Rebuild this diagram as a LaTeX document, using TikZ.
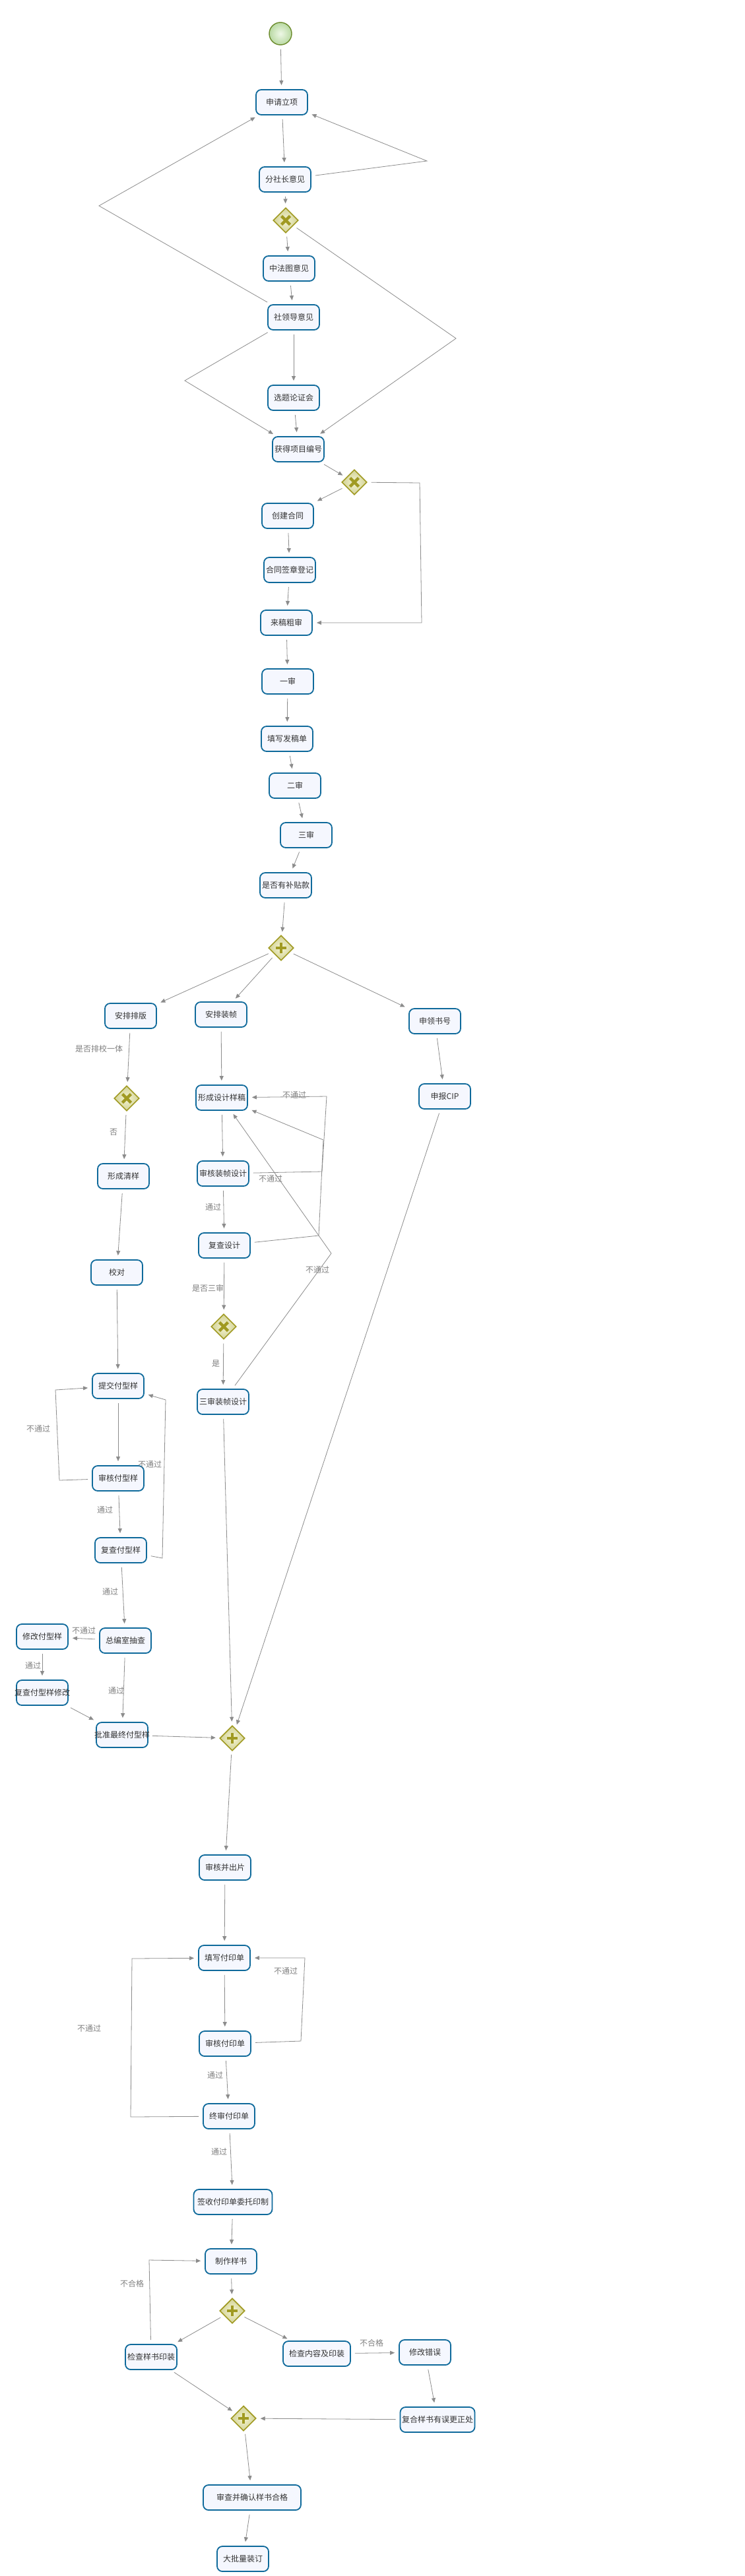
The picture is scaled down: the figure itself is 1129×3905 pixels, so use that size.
\documentclass[tikz,border=0pt]{standalone}
\usepackage{fontspec}
\newfontfamily\cjk{Noto Sans CJK SC}
\usetikzlibrary{arrows.meta,shapes.geometric,calc}
\definecolor{boxline}{HTML}{0F6A9B}
\definecolor{boxfill}{HTML}{F5F7FE}
\definecolor{txt}{HTML}{333333}
\definecolor{lbl}{HTML}{808080}
\definecolor{edgec}{HTML}{8C8C8C}
\definecolor{gwline}{HTML}{A09A22}
\definecolor{gwin}{HTML}{F4F4D2}
\definecolor{gwout}{HTML}{D2D296}
\definecolor{stline}{HTML}{6A8A2A}
\definecolor{stin}{HTML}{EEF8E6}
\definecolor{stout}{HTML}{B9D9A3}
\begin{document}
\begin{tikzpicture}[x=1pt,y=-1pt,
  task/.style={draw=boxline,line width=1.8pt,fill=boxfill,rounded corners=8pt,
    minimum width=78pt,minimum height=38pt,inner sep=0pt,
    font=\cjk\fontsize{12}{14}\selectfont,text=txt},
  flow/.style={draw=edgec,line width=0.8pt,-{Triangle[length=7pt,width=6pt]},
    shorten >=6pt,shorten <=6pt},
  lab/.style={font=\cjk\fontsize{12}{14}\selectfont,text=lbl,inner sep=0pt},
  gw/.style={diamond,aspect=1,minimum width=38pt,minimum height=38pt,inner sep=0pt,
    draw=gwline,line width=1.6pt,inner color=gwin,outer color=gwout},
  gwx/.style={gw,path picture={
    \draw[gwline,line width=4.5pt]
      ([shift={(-6.5pt,-6.5pt)}]path picture bounding box.center) --
      ([shift={(6.5pt,6.5pt)}]path picture bounding box.center)
      ([shift={(-6.5pt,6.5pt)}]path picture bounding box.center) --
      ([shift={(6.5pt,-6.5pt)}]path picture bounding box.center);}},
  gwp/.style={gw,path picture={
    \draw[gwline,line width=4.5pt]
      ([shift={(-8pt,0pt)}]path picture bounding box.center) --
      ([shift={(8pt,0pt)}]path picture bounding box.center)
      ([shift={(0pt,-8pt)}]path picture bounding box.center) --
      ([shift={(0pt,8pt)}]path picture bounding box.center);}},
  startev/.style={circle,minimum size=34pt,inner sep=0pt,draw=stline,line width=1.4pt,
    inner color=stin,outer color=stout}
]
\useasboundingbox (0,0) rectangle (1129,3905);
\fill[white] (0,0) rectangle (1129,3905);

% ---------- nodes ----------
\node[startev] (st) at (425,51) {};
\node[task] (n1) at (427,155) {申请立项};
\node[task] (n2) at (432,272) {分社长意见};
\node[gwx] (g1) at (433,334) {};
\node[task] (n3) at (438,407) {中法图意见};
\node[task] (n4) at (445,481) {社领导意见};
\node[task] (n5) at (445,603) {选题论证会};
\node[task] (n6) at (452,681) {获得项目编号};
\node[gwx] (g2) at (537,731) {};
\node[task] (n7) at (436,782) {创建合同};
\node[task] (n8) at (439,864) {合同签章登记};
\node[task] (n9) at (434,944) {来稿粗审};
\node[task] (n10) at (436,1033) {一审};
\node[task] (n11) at (435,1120) {填写发稿单};
\node[task] (n12) at (447,1191) {二审};
\node[task] (n13) at (464,1266) {三审};
\node[task] (n14) at (433,1342) {是否有补贴款};
\node[gwp] (g3) at (426,1437) {};

\node[task] (a1) at (198,1540) {安排排版};
\node[gwx] (g4) at (192,1665) {};
\node[task] (a2) at (187,1783) {形成清样};
\node[task] (a3) at (177,1929) {校对};
\node[task] (a4) at (179,2101) {提交付型样};
\node[task] (a5) at (179,2241) {审核付型样};
\node[task] (a6) at (183,2350) {复查付型样};
\node[task] (a7) at (190,2487) {总编室抽查};
\node[task] (a8) at (64,2481) {修改付型样};
\node[task] (a9) at (64,2566) {\makebox[0pt]{复查付型样修改}};
\node[task] (a10) at (185,2630) {\makebox[0pt]{批准最终付型样}};

\node[task] (b1) at (335,1538) {安排装帧};
\node[task] (b2) at (336,1664) {形成设计样稿};
\node[task] (b3) at (338,1779) {审核装帧设计};
\node[task] (b4) at (340,1888) {复查设计};
\node[gwx] (g5) at (339,2011) {};
\node[task] (b5) at (338,2125) {三审装帧设计};

\node[task] (c1) at (659,1548) {申领书号};
\node[task] (c2) at (674,1662) {申报CIP};

\node[gwp] (g6) at (352,2635) {};
\node[task] (m1) at (341,2831) {审核并出片};
\node[task] (m2) at (340,2968) {填写付印单};
\node[task] (m3) at (341,3098) {审核付印单};
\node[task] (m4) at (347,3208) {终审付印单};
\node[task,minimum width=119pt] (m5) at (353,3338) {签收付印单委托印制};
\node[task] (m6) at (350,3428) {制作样书};
\node[gwp] (g7) at (352,3503) {};
\node[task] (p1) at (229,3573) {检查样书印装};
\node[task,minimum width=102pt] (q1) at (480,3568) {检查内容及印装};
\node[task] (q2) at (644,3566) {修改错误};
\node[task,minimum width=113pt] (q3) at (663,3668) {复合样书有误更正处};
\node[gwp] (g8) at (369,3666) {};
\node[task,minimum width=148pt] (m7) at (382,3786) {审查并确认样书合格};
\node[task] (m8) at (368,3879) {大批量装订};

% ---------- bend points ----------
\coordinate (k1) at (647,244);
\coordinate (k2) at (150,312);
\coordinate (k3) at (691,513);
\coordinate (k4) at (280,577);
\coordinate (k5) at (636,732);
\coordinate (k6) at (639,944);
\coordinate (k7) at (90,2244);
\coordinate (k8) at (84,2107);
\coordinate (k9) at (246,2362);
\coordinate (k10) at (251,2122);
\coordinate (k11) at (488,1776);
\coordinate (k12) at (495,1662);
\coordinate (k13) at (483,1873);
\coordinate (k14) at (490,1728);
\coordinate (k15) at (502,1900);
\coordinate (k16) at (456,3094);
\coordinate (k17) at (462,2968);
\coordinate (k18) at (198,3209);
\coordinate (k19) at (200,2969);
\coordinate (k20) at (226,3426);

% ---------- connectors ----------
\draw[flow] (st) -- (n1);
\draw[flow] (n1) -- (n2);
\draw[flow] (n2) -- (g1);
\draw[flow] (n2) -- (k1) -- (n1);
\draw[flow] (g1) -- (n3);
\draw[flow] (n3) -- (n4);
\draw[flow] (n4) -- (k2) -- (n1);
\draw[flow] (g1) -- (k3) -- (n6);
\draw[flow] (n4) -- (n5);
\draw[flow] (n4) -- (k4) -- (n6);
\draw[flow] (n5) -- (n6);
\draw[flow] (n6) -- (g2);
\draw[flow] (g2) -- (n7);
\draw[flow] (g2) -- (k5) -- (k6) -- (n9);
\draw[flow] (n7) -- (n8);
\draw[flow] (n8) -- (n9);
\draw[flow] (n9) -- (n10);
\draw[flow] (n10) -- (n11);
\draw[flow] (n11) -- (n12);
\draw[flow] (n12) -- (n13);
\draw[flow] (n13) -- (n14);
\draw[flow] (n14) -- (g3);
\draw[flow] (g3) -- (a1);
\draw[flow] (g3) -- (b1);
\draw[flow] (g3) -- (c1);

\draw[flow] (a1) -- (g4);
\draw[flow] (g4) -- (a2);
\draw[flow] (a2) -- (a3);
\draw[flow] (a3) -- (a4);
\draw[flow] (a4) -- (a5);
\draw[flow] (a5) -- (k7) -- (k8) -- (a4);
\draw[flow] (a5) -- (a6);
\draw[flow] (a6) -- (k9) -- (k10) -- (a4);
\draw[flow] (a6) -- (a7);
\draw[flow] (a7) -- (a8);
\draw[flow] (a8) -- (a9);
\draw[flow] (a7) -- (a10);
\draw[flow] (a9) -- (a10);
\draw[flow] (a10) -- (g6);

\draw[flow] (b1) -- (b2);
\draw[flow] (b2) -- (b3);
\draw[flow] (b3) -- (k11) -- (k12) -- (b2);
\draw[flow] (b3) -- (b4);
\draw[flow] (b4) -- (k13) -- (k14) -- (b2);
\draw[flow] (b4) -- (g5);
\draw[flow] (g5) -- (b5);
\draw[flow] (b5) -- (k15) -- (b2);
\draw[flow] (b5) -- (g6);

\draw[flow] (c1) -- (c2);
\draw[flow] (c2) -- (g6);

\draw[flow] (g6) -- (m1);
\draw[flow] (m1) -- (m2);
\draw[flow] (m2) -- (m3);
\draw[flow] (m3) -- (k16) -- (k17) -- (m2);
\draw[flow] (m3) -- (m4);
\draw[flow] (m4) -- (k18) -- (k19) -- (m2);
\draw[flow] (m4) -- (m5);
\draw[flow] (m5) -- (m6);
\draw[flow] (m6) -- (g7);
\draw[flow] (g7) -- (p1);
\draw[flow] (g7) -- (q1);
\draw[flow] (p1) -- (k20) -- (m6);
\draw[flow] (q1) -- (q2);
\draw[flow] (q2) -- (q3);
\draw[flow] (q3) -- (g8);
\draw[flow] (p1) -- (g8);
\draw[flow] (g8) -- (m7);
\draw[flow] (m7) -- (m8);

% ---------- labels ----------
\node[lab] (l1) at (150,1590) {是否排校一体};
\node[lab] (l2) at (172,1716) {否};
\node[lab] (l3) at (323,1830) {通过};
\node[lab] (l4) at (446,1660) {不通过};
\node[lab] (l5) at (410,1787) {不通过};
\node[lab] (l6) at (481,1925) {不通过};
\node[lab] (l7) at (315,1953) {是否三审};
\node[lab] (l8) at (327,2067) {是};
\node[lab] (l9) at (58,2166) {不通过};
\node[lab] (l10) at (227,2220) {不通过};
\node[lab] (l11) at (159,2289) {通过};
\node[lab] (l12) at (167,2413) {通过};
\node[lab] (l13) at (127,2472) {不通过};
\node[lab] (l14) at (50,2525) {通过};
\node[lab] (l15) at (176,2563) {通过};
\node[lab] (l16) at (433,2988) {不通过};
\node[lab] (l17) at (135,3075) {不通过};
\node[lab] (l18) at (326,3146) {通过};
\node[lab] (l19) at (332,3262) {通过};
\node[lab] (l20) at (200,3462) {不合格};
\node[lab] (l21) at (563,3552) {不合格};
\end{tikzpicture}
\end{document}
